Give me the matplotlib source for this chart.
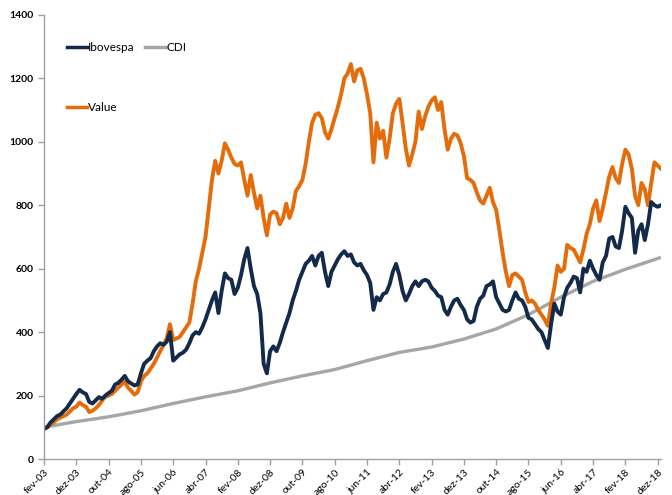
import numpy as np
import matplotlib
matplotlib.use("Agg")
import matplotlib.pyplot as plt
from matplotlib.lines import Line2D

# Monthly values, Feb-2003 .. Jan-2019 (index 0 = fev-03)
ibovespa = [95, 100, 115, 125, 135, 140, 150, 160, 175, 190, 205, 218, 210, 205, 180, 175, 185, 195, 190, 200,
            208, 215, 235, 240, 250, 262, 245, 238, 232, 235, 270, 300, 310, 318, 340, 355, 365, 360, 370, 400,
            310, 320, 330, 335, 345, 365, 390, 400, 395, 415, 440, 470, 500, 525, 460, 530, 585, 570, 565, 520,
            540, 580, 630, 665, 600, 545, 520, 460, 300, 270, 340, 355, 340, 366, 400, 430, 460, 500, 530, 565,
            590, 615, 625, 640, 610, 640, 650, 590, 545, 590, 610, 630, 645, 655, 640, 645, 620, 610, 615, 595,
            580, 555, 470, 510, 500, 520, 525, 550, 590, 615, 580, 530, 500, 520, 545, 560, 545, 560, 565, 560,
            540, 530, 515, 510, 470, 455, 480, 500, 505, 485, 470, 440, 430, 435, 480, 505, 515, 545, 550, 560,
            510, 490, 470, 465, 470, 500, 525, 505, 500, 480, 445, 440, 425, 410, 400, 375, 350, 425, 490, 465,
            455, 510, 540, 555, 575, 570, 525, 600, 590, 625, 600, 580, 565, 620, 640, 695, 700, 670, 665, 720,
            795, 775, 760, 650, 720, 740, 690, 740, 810, 800, 795, 800]

value = [95, 100, 110, 115, 125, 130, 135, 140, 150, 160, 165, 178, 170, 165, 148, 152, 160, 170, 185, 196,
         200, 205, 215, 225, 235, 244, 225, 215, 203, 210, 245, 262, 270, 285, 300, 320, 340, 360, 380, 425,
         375, 380, 385, 400, 415, 430, 490, 560, 600, 650, 700, 790, 880, 940, 900, 940, 995, 975, 950, 930,
         925, 935, 880, 830, 895, 840, 790, 830, 760, 705, 770, 780, 775, 740, 760, 805, 760, 790, 845, 860,
         880, 930, 1000, 1060, 1085, 1090, 1075, 1030, 1010, 1040, 1075, 1110, 1150, 1200, 1215, 1245, 1190, 1225, 1230, 1200,
         1150, 1090, 935, 1060, 1010, 1035, 950, 1010, 1090, 1120, 1135, 1060, 980, 925, 960, 1000, 1095, 1040, 1080, 1110,
         1130, 1140, 1100, 1125, 1040, 975, 1010, 1025, 1020, 995, 955, 885, 880, 870, 840, 815, 805, 830, 855, 810,
         785, 720, 650, 590, 545, 580, 585, 575, 565, 525, 495, 500, 490, 470, 455, 440, 420, 490, 540, 610,
         590, 600, 675, 665, 660, 640, 620, 660, 710, 740, 790, 815, 750, 790, 840, 890, 920, 885, 870, 930,
         975, 960, 915, 830, 800, 870, 850, 800, 870, 935, 925, 915]

# CDI is smooth: values read at each x tick (every 10 months) plus the last month
cdi_month = [0, 10, 20, 30, 40, 50, 60, 70, 80, 90, 100, 110, 120, 130, 140, 150, 160, 170, 180, 190, 191]
cdi = [100, 118, 133, 152, 175, 196, 215, 240, 262, 282, 310, 336, 353, 378, 410, 455, 510, 560, 598, 632, 636]

tick_labels = ["fev-03", "dez-03", "out-04", "ago-05", "jun-06", "abr-07", "fev-08", "dez-08", "out-09", "ago-10",
               "jun-11", "abr-12", "fev-13", "dez-13", "out-14", "ago-15", "jun-16", "abr-17", "fev-18", "dez-18"]

NAVY = "#132a4a"
ORANGE = "#e46c0a"
GRAY = "#a6a6a6"
AXIS = "#a0a0a0"

plt.rcParams['font.family'] = ['Lato', 'DejaVu Sans']

fig = plt.figure(figsize=(6.72, 4.95), dpi=100)
ax = fig.add_axes([0.0655, 0.0727, 0.918, 0.8973])

x = np.arange(len(ibovespa))
ax.plot(cdi_month, cdi, color=GRAY, lw=2.4, solid_capstyle='butt')
ax.plot(x, value, color=ORANGE, lw=2.8, solid_joinstyle='round')
ax.plot(x, ibovespa, color=NAVY, lw=2.8, solid_joinstyle='round')

ax.set_xlim(0, 191)
ax.set_ylim(0, 1400)
ax.set_yticks(range(0, 1401, 200))
ax.set_yticklabels([str(v) for v in range(0, 1401, 200)], fontsize=7.5, fontweight='bold')
ax.set_xticks(range(0, 191, 10))
ax.set_xticklabels(tick_labels, rotation=45, ha='right', va='top', fontsize=7.5,
                   rotation_mode='anchor')

for s in ['top', 'right']:
    ax.spines[s].set_visible(False)
for s in ['left', 'bottom']:
    ax.spines[s].set_color(AXIS)
    ax.spines[s].set_linewidth(1.0)
ax.tick_params(axis='both', colors=AXIS, length=4, width=1.0, direction='out')
ax.tick_params(axis='both', labelcolor='black')
ax.tick_params(axis='x', pad=2)

h1 = Line2D([], [], color=NAVY, lw=2.5)
h2 = Line2D([], [], color=GRAY, lw=2.5)
h3 = Line2D([], [], color=ORANGE, lw=2.5)
leg1 = ax.legend([h1, h2], ["Ibovespa", "CDI"], ncol=2, loc='upper left',
                 bbox_to_anchor=(0.02, 0.962), frameon=False, fontsize=8.5,
                 handlelength=1.7, handletextpad=0.1, columnspacing=0.9)
ax.add_artist(leg1)
ax.legend([h3], ["Value"], loc='upper left', bbox_to_anchor=(0.02, 0.827), frameon=False,
          fontsize=8.5, handlelength=1.7, handletextpad=0.1)

fig.savefig("out.png", dpi=100)
